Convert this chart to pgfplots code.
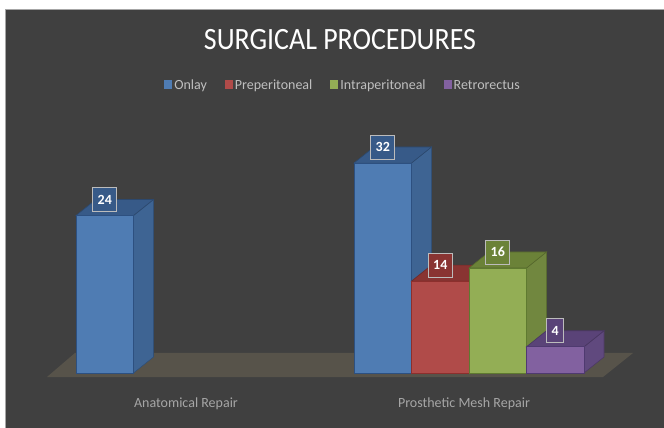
\documentclass[border=0pt]{standalone}
\usepackage{fontspec}
\setmainfont{Carlito}
\usepackage{pgfplots}
\pgfplotsset{compat=1.18}
\definecolor{bg}{HTML}{404040}
\definecolor{floorc}{HTML}{57534A}
\definecolor{bluef}{HTML}{4F7CB3}\definecolor{blues}{HTML}{3E6493}\definecolor{bluet}{HTML}{375A88}\definecolor{bluee}{HTML}{2D5080}
\definecolor{redf}{HTML}{B04B49}\definecolor{reds}{HTML}{8A3A38}\definecolor{redt}{HTML}{893432}\definecolor{rede}{HTML}{8C2F2D}
\definecolor{greenf}{HTML}{93AE55}\definecolor{greens}{HTML}{71873F}\definecolor{greent}{HTML}{6B8238}\definecolor{greene}{HTML}{5F7A30}
\definecolor{purplef}{HTML}{8261A0}\definecolor{purples}{HTML}{60497E}\definecolor{purplet}{HTML}{5A4378}\definecolor{purplee}{HTML}{4F3A70}
\pgfplotsset{
  face/.style={forget plot,fill=#1,draw=#1!80!black,line width=0.6pt},
  lab/.style n args={3}{nodes near coords,
    nodes near coords style={anchor=center,xshift=#3,yshift=16pt,fill=#1,draw=white!65!bg,line width=0.7pt,
      text=white,font=\bfseries\fontsize{14}{14}\selectfont,inner sep=0pt,
      minimum width=#2,minimum height=24pt,/pgf/number format/assume math mode=true}},
}
\begin{document}
\begin{tikzpicture}
\useasboundingbox (0,0) rectangle (664pt,428pt);
\fill[bg] (5pt,0) rectangle (664pt,419pt);
\draw[gray!70,line width=0.5pt] (5pt,0) -- (5pt,419pt) -- (664pt,419pt);
\begin{axis}[
    at={(0,0)},anchor=south west,
    scale only axis,width=664pt,height=428pt,
    xmin=-0.68705,xmax=1.70144,ymin=-8.381,ymax=56.838,
    axis line style={draw=none},
    major tick length=0pt,
    ytick=\empty,
    xtick={0,1},
    xticklabels={Anatomical Repair,Prosthetic Mesh Repair},
    xticklabel style={xshift=-5pt,yshift=34pt,text=white!65!black,font=\fontsize{14}{14}\selectfont},
    title={SURGICAL PROCEDURES},
    title style={at={(0.512,0.893)},anchor=center,xscale=0.9,text=white,font=\fontsize{31}{31}\selectfont},
    legend style={at={(0.5166,0.799)},anchor=center,draw=none,fill=none,text=white!75!black,
      font=\fontsize{14}{14}\selectfont,legend columns=4,
      nodes={text height=9pt,text depth=3pt},
      /tikz/every even column/.append style={column sep=16pt}},
    legend image code/.code={\path[#1,draw=none] (2pt,-3pt) rectangle (10pt,6pt);},
    bar width=57.5pt,
    clip=false,
]
% floor
\addplot[forget plot,fill=floorc,draw=none] coordinates {(-0.518,-0.61) (-0.4173,3.05) (1.590,3.05) (1.482,-0.61)} -- cycle;

% Onlay
\addplot[face=blues] coordinates {(-0.2068,0) (-0.1349,2.44) (-0.1349,26.44) (-0.2068,24)} -- cycle;
\addplot[face=bluet] coordinates {(-0.4137,24) (-0.3418,26.44) (-0.1349,26.44) (-0.2068,24)} -- cycle;
\addplot[face=blues] coordinates {(0.7932,0) (0.8651,2.44) (0.8651,34.44) (0.7932,32)} -- cycle;
\addplot[face=bluet] coordinates {(0.5863,32) (0.6582,34.44) (0.8651,34.44) (0.7932,32)} -- cycle;
\addplot[ybar,bar shift=-86.25pt,fill=bluef,draw=bluee,line width=0.8pt,lab={bluet}{24pt}{-86.25pt}] coordinates {(0,24) (1,32)};
\addlegendentry{Onlay}

% Preperitoneal
\addplot[face=reds] coordinates {(1.0,0) (1.0719,2.44) (1.0719,16.44) (1.0,14)} -- cycle;
\addplot[face=redt] coordinates {(0.7932,14) (0.8651,16.44) (1.0719,16.44) (1.0,14)} -- cycle;
\addplot[ybar,bar shift=-28.75pt,fill=redf,draw=rede,line width=0.8pt,lab={redt}{24pt}{-28.75pt}] coordinates {(1,14)};
\addlegendentry{Preperitoneal}

% Intraperitoneal
\addplot[face=greens] coordinates {(1.2068,0) (1.2787,2.44) (1.2787,18.44) (1.2068,16)} -- cycle;
\addplot[face=greent] coordinates {(1.0,16) (1.0719,18.44) (1.2787,18.44) (1.2068,16)} -- cycle;
\addplot[ybar,bar shift=28.75pt,fill=greenf,draw=greene,line width=0.8pt,lab={greent}{24pt}{28.75pt}] coordinates {(1,16)};
\addlegendentry{Intraperitoneal}

% Retrorectus
\addplot[face=purples] coordinates {(1.4137,0) (1.4856,2.44) (1.4856,6.44) (1.4137,4)} -- cycle;
\addplot[face=purplet] coordinates {(1.2068,4) (1.2787,6.44) (1.4856,6.44) (1.4137,4)} -- cycle;
\addplot[ybar,bar shift=86.25pt,fill=purplef,draw=purplee,line width=0.8pt,lab={purplet}{17pt}{86.25pt}] coordinates {(1,4)};
\addlegendentry{Retrorectus}
\end{axis}
\end{tikzpicture}
\end{document}
